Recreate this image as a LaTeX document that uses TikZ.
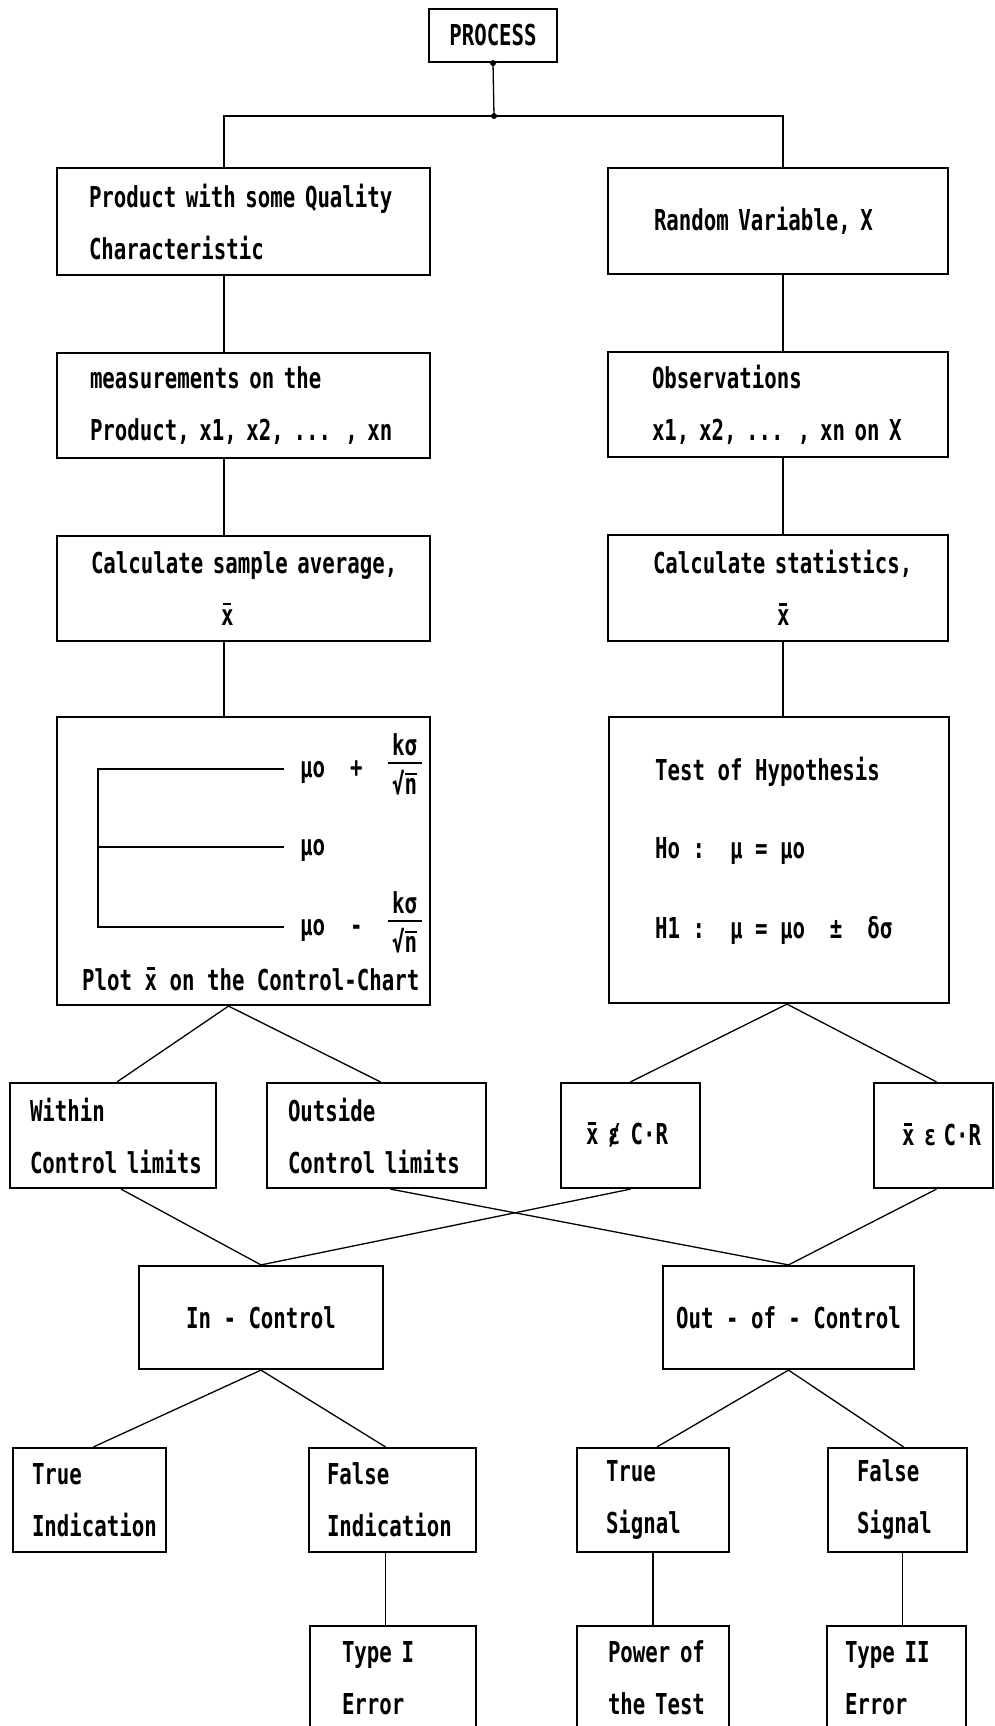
\documentclass[tikz,border=0pt]{standalone}
\usepackage{fontspec}
\newfontfamily\dotfont[FakeStretch=0.72]{DejaVu Sans Mono}
\newcommand{\xbar}{\leavevmode{\ooalign{x\cr\hidewidth\rule[20pt]{8pt}{2.6pt}\hidewidth\cr}}}
\newcommand{\nbar}{{\ooalign{n\cr\hidewidth\rule[19pt]{12pt}{2.2pt}\hidewidth\cr}}}
\newcommand{\nelem}{{\ooalign{ε\cr\hidewidth/\hidewidth\cr}}}
\newcommand{\kfrac}{\raisebox{-17pt}{\vbox{\hbox to 34pt{\hss kσ\hss}\kern6pt\hrule height 2.2pt\kern6pt\hbox to 34pt{\hss √\nbar\hss}}}}
\begin{document}
\begin{tikzpicture}[x=1pt,y=-1pt,
  every node/.style={font=\fontsize{28.8}{52}\dotfont\bfseries},
  box/.style n args={3}{draw,line width=2.2pt,text width=#1,minimum height=#2,
    inner xsep=0pt,inner ysep=0pt,align=left,execute at begin node={\leftskip=#3\relax}},
  cbox/.style 2 args={draw,line width=2.2pt,minimum width=#1,minimum height=#2,inner sep=0pt},
  lbl/.style={anchor=base west,inner sep=0pt},
  wire/.style={line width=1.3pt}]
\useasboundingbox (0,0) rectangle (995,1726);
% top
\node[cbox={128pt}{53pt}] (proc) at (493,35.5) {PROCESS};
\coordinate (jn) at (494,116);
\coordinate (lt) at (224,116);
\coordinate (rt) at (783,116);
% left column
\node[box={373pt}{107pt}{32pt}] (prod) at (243.5,221.5) {Product with some Quality\\Characteristic};
\node[box={373pt}{105pt}{33pt}] (meas) at (243.5,405.5) {measurements on the\\Product, x1, x2, ... , xn};
\node[box={373pt}{105pt}{34pt}] (avg) at (243.5,588.5) {Calculate sample average,\\\hspace*{130pt}\xbar};
\node[cbox={373pt}{288pt}] (chart) at (243.5,861) {};
% right column
\node[box={340pt}{106pt}{46pt}] (rv) at (778,221) {Random Variable, X};
\node[box={340pt}{105pt}{44pt}] (obs) at (778,404.5) {Observations\\x1, x2, ... , xn on X};
\node[box={340pt}{106pt}{45pt}] (stat) at (778,588) {Calculate statistics,\\\hspace*{124pt}\xbar};
\node[cbox={340pt}{286pt}] (hyp) at (779,860) {};
% control chart
\draw[line width=2pt] (284,769) -- (98,769) -- (98,927) -- (284,927) (98,847) -- (284,847);
\node[lbl] (ucl) at (300,777) {μo~~+~~\kfrac};
\node[lbl] (cl) at (300,855) {μo};
\node[lbl] (lcl) at (300,935) {μo~~-~~\kfrac};
\node[lbl] (plot) at (82,990) {Plot \xbar{} on the Control-Chart};
% hypothesis
\node[lbl] (hypa) at (655,780) {Test of Hypothesis};
\node[lbl] (hypb) at (655,858) {Ho :~~μ = μo};
\node[lbl] (hypc) at (655,938) {H1 :~~μ = μo~~±~~δσ};
% decisions
\node[box={206pt}{105pt}{20pt}] (within) at (113,1135.5) {Within\\Control limits};
\node[box={219pt}{105pt}{21pt}] (outside) at (376.5,1135.5) {Outside\\Control limits};
\node[box={139pt}{105pt}{25pt}] (notcr) at (630.5,1135.5) {\xbar~\nelem\hspace{10pt}C·R};
\node[box={119pt}{105pt}{28pt}] (incr) at (933.5,1135.5) {\xbar~ε\hspace{7pt}C·R};
\node[cbox={244pt}{103pt}] (inctl) at (261,1317.5) {In - Control};
\node[cbox={251pt}{103pt}] (outctl) at (788.5,1317.5) {Out - of - Control};
% outcomes
\node[box={153pt}{104pt}{19pt}] (trind) at (89.5,1500) {True\\Indication};
\node[box={167pt}{104pt}{18pt}] (faind) at (392.5,1500) {False\\Indication};
\node[box={152pt}{104pt}{29pt}] (trsig) at (653,1500) {True\\Signal};
\node[box={139pt}{104pt}{29pt}] (fasig) at (897.5,1500) {False\\Signal};
\node[box={166pt}{104pt}{32pt}] (type1) at (393,1678) {Type I\\Error};
\node[box={152pt}{104pt}{31pt}] (power) at (653,1678) {Power of\\the Test};
\node[box={139pt}{104pt}{18pt}] (type2) at (896.5,1678) {Type II\\Error};
% connectors
\draw[wire] (proc.south) -- (jn);
\draw[wire] (prod.north -| lt) -- (lt) -- (rt) -- (rv.north -| rt);
\fill (proc.south) circle (3pt);
\fill (jn) circle (3pt);
\foreach \a/\b in {prod/meas,meas/avg,avg/chart}
  \draw[wire] (\a.south -| lt) -- (\b.north -| lt);
\foreach \a/\b in {rv/obs,obs/stat,stat/hyp}
  \draw[wire] (\a.south -| rt) -- (\b.north -| rt);
\coordinate (cb) at ([xshift=-15pt]chart.south);
\coordinate (hb) at ([xshift=8pt]hyp.south);
\draw[wire] ([xshift=4pt]within.north) -- (cb) -- ([xshift=4pt]outside.north);
\draw[wire] (notcr.north) -- (hb) -- ([xshift=3pt]incr.north);
\draw[wire] ([xshift=8pt]within.south) -- (inctl.north) -- (notcr.south);
\draw[wire] ([xshift=14pt]outside.south) -- (outctl.north) -- ([xshift=3pt]incr.south);
\draw[wire] ([xshift=4pt]trind.north) -- (inctl.south) -- ([xshift=-7pt]faind.north);
\draw[wire] ([xshift=4pt]trsig.north) -- (outctl.south) -- ([xshift=6pt]fasig.north);
\draw[wire] ([xshift=-7pt]faind.south) -- ([xshift=-7pt]faind.south |- type1.north);
\draw[wire] (trsig.south) -- (power.north);
\draw[wire] ([xshift=5pt]fasig.south) -- ([xshift=5pt]fasig.south |- type2.north);
\end{tikzpicture}
\end{document}
